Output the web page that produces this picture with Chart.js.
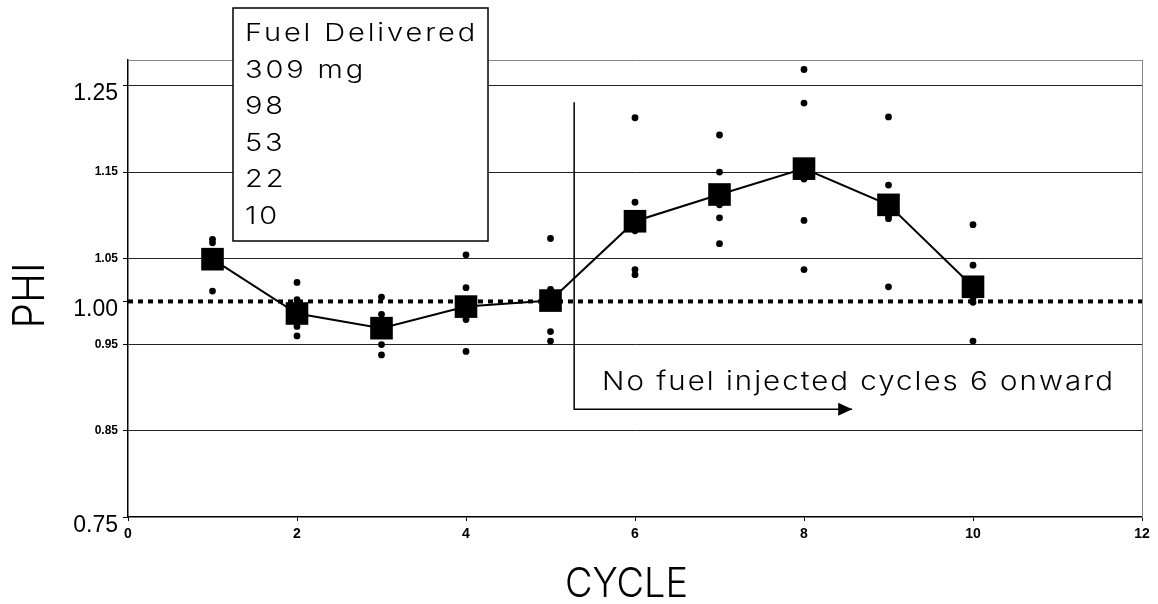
<!DOCTYPE html>
<html lang="en">
<head>
<meta charset="UTF-8" />
<title>PHI by cycle</title>
<script src="https://cdn.jsdelivr.net/npm/chart.js@4.4.1/dist/chart.umd.min.js"></script>
<style>
  html, body { margin:0; padding:0; background:#fff; }
  #wrap { width:1158px; height:604px; position:relative; }
</style>
</head>
<body>
<div id="wrap"><canvas id="phiChart" width="1158" height="604"></canvas></div>
<script>
// cycle numbers and mean PHI (big squares)
const cycles = [1, 2, 3, 4, 5, 6, 7, 8, 9, 10];
const meanPhi = [1.049, 0.986, 0.969, 0.994, 1.001, 1.093, 1.124, 1.154, 1.112, 1.017];

// individual runs per cycle (small dots), one list per cycle
const runPhi = [
  [1.072, 1.068, 1.049, 1.048, 1.012],
  [1.022, 1.002, 0.983, 0.971, 0.960],
  [1.005, 0.985, 0.967, 0.950, 0.938],
  [1.054, 1.016, 0.995, 0.979, 0.942],
  [1.073, 1.014, 0.998, 0.965, 0.954],
  [1.213, 1.115, 1.082, 1.037, 1.031],
  [1.193, 1.150, 1.112, 1.097, 1.067],
  [1.269, 1.230, 1.142, 1.094, 1.037],
  [1.214, 1.135, 1.099, 1.096, 1.017],
  [1.089, 1.042, 1.004, 0.999, 0.954]
];

// stoichiometric reference line
const refX = [0, 12];
const refY = [1.00, 1.00];

// "no fuel" marker: vertical bracket and arrow
const markerX = [5.28, 5.28, 8.57];
const markerY = [1.231, 0.875, 0.875];

// axes
const yTicks = [0.75, 0.85, 0.95, 1.00, 1.05, 1.15, 1.25];
const yBigTicks = [0.75, 1.00, 1.25];
const yGrid = [0.85, 0.95, 1.05, 1.15, 1.25];

const legendLines = ['Fuel Delivered', '309 mg', '98', '53', '22', '10'];
const noteText = 'No fuel injected cycles 6 onward';

const thin = '"Inter", "Lato", "DejaVu Sans", sans-serif';

let dotPts = [];
runPhi.forEach((vals, i) => vals.forEach(v => dotPts.push({x: cycles[i], y: v})));

function isBig(ctx) {
  return !!(ctx && ctx.tick && yBigTicks.includes(ctx.tick.value));
}

// work out a stretch + spacing so that str fills width
function fitFor(ctx, str, width) {
  ctx.letterSpacing = '0px';
  const w = ctx.measureText(str).width;
  const sx = 1 + (width / w - 1) * 0.45;
  const ls = (width - w * sx) / (str.length * sx);
  return {sx, ls};
}

function drawFit(ctx, str, x, yb, fit) {
  ctx.save();
  ctx.translate(x, yb);
  ctx.scale(fit.sx, 1);
  ctx.letterSpacing = fit.ls + 'px';
  ctx.fillText(str, 0, 0);
  ctx.restore();
}

const overlay = {
  id: 'overlay',
  afterDatasetsDraw(chart) {
    const ctx = chart.ctx;
    const xs = chart.scales.x, ys = chart.scales.y;
    ctx.save();
    // arrow head
    const tx = xs.getPixelForValue(markerX[2]);
    const ty = ys.getPixelForValue(markerY[2]);
    ctx.fillStyle = '#000';
    ctx.beginPath();
    ctx.moveTo(tx, ty);
    ctx.lineTo(tx - 14, ty - 6.5);
    ctx.lineTo(tx - 14, ty + 6.5);
    ctx.closePath();
    ctx.fill();

    ctx.textAlign = 'left';
    ctx.textBaseline = 'alphabetic';

    // note
    ctx.font = '300 26px ' + thin;
    drawFit(ctx, noteText, 602, 390, fitFor(ctx, noteText, 513));

    // legend box
    ctx.fillStyle = '#fff';
    ctx.fillRect(233, 8, 255, 233);
    ctx.strokeStyle = '#000';
    ctx.lineWidth = 1.5;
    ctx.strokeRect(233, 8, 255, 233);
    ctx.fillStyle = '#000';
    ctx.font = '300 24px ' + thin;
    const lf = fitFor(ctx, legendLines[0], 233);
    legendLines.forEach((t, i) => drawFit(ctx, t, 245, 41 + i * 36.6, lf));

    // axis titles
    ctx.font = '300 41px ' + thin;
    ctx.letterSpacing = '0px';
    let w = ctx.measureText('CYCLE').width;
    drawFit(ctx, 'CYCLE', 565, 597, {sx: 123 / w, ls: 0});

    ctx.translate(44, 295.5);
    ctx.rotate(-Math.PI / 2);
    ctx.font = '300 43px ' + thin;
    w = ctx.measureText('PHI').width;
    drawFit(ctx, 'PHI', -33, 0, {sx: 66 / w, ls: 0});
    ctx.restore();
  }
};

new Chart(document.getElementById('phiChart'), {
  type: 'scatter',
  data: {
    datasets: [
      {
        type: 'line',
        label: 'Mean',
        data: cycles.map((c, i) => ({x: c, y: meanPhi[i]})),
        borderColor: '#000',
        borderWidth: 2,
        pointStyle: 'rect',
        pointRadius: 16,
        pointBackgroundColor: '#000',
        pointBorderWidth: 0,
        tension: 0
      },
      {
        label: 'Runs',
        data: dotPts,
        pointRadius: 3.4,
        backgroundColor: '#000',
        borderWidth: 0
      },
      {
        type: 'line',
        label: 'PHI = 1',
        data: refX.map((v, i) => ({x: v, y: refY[i]})),
        borderColor: '#000',
        borderWidth: 4,
        borderDash: [5, 5],
        borderCapStyle: 'butt',
        pointRadius: 0
      },
      {
        type: 'line',
        label: 'No fuel',
        data: markerX.map((v, i) => ({x: v, y: markerY[i]})),
        borderColor: '#000',
        borderWidth: 1.5,
        pointRadius: 0,
        tension: 0
      }
    ]
  },
  options: {
    responsive: false,
    animation: false,
    layout: { padding: { top: 60, right: 15, bottom: 0, left: 0 } },
    plugins: { legend: { display: false }, tooltip: { enabled: false } },
    scales: {
      x: {
        type: 'linear', min: 0, max: 12,
        ticks: {
          stepSize: 2, padding: 5, color: '#000',
          font: { family: '"Liberation Sans Narrow", "Liberation Sans", Arial', weight: 'bold', size: 14 }
        },
        grid: { drawOnChartArea: false, drawTicks: true, tickLength: 4, tickColor: '#000' },
        border: { color: '#000', width: 1.5 },
        afterFit(s) { s.height = 87; }
      },
      y: {
        type: 'linear', min: 0.75, max: 1.28,
        afterBuildTicks(s) { s.ticks = yTicks.map(v => ({value: v})); },
        ticks: {
          padding: 5, color: '#000',
          callback: v => yBigTicks.includes(v) ? ['', v.toFixed(2)] : v.toFixed(2),
          font: ctx => isBig(ctx)
            ? { family: '"Liberation Sans", Arial', size: 23, lineHeight: 0.72 }
            : { family: '"Liberation Sans", Arial', size: 12, weight: 'bold' }
        },
        grid: {
          color: ctx => (ctx.tick && yGrid.includes(ctx.tick.value)) ? '#222' : 'rgba(0,0,0,0)',
          lineWidth: 1,
          tickLength: 5,
          tickColor: '#000'
        },
        border: { color: '#000', width: 1.5 },
        afterFit(s) { s.width = 128; }
      },
      x2: {
        type: 'linear', position: 'top', min: 0, max: 12,
        ticks: { display: false },
        grid: { drawOnChartArea: false, drawTicks: false },
        border: { color: '#888', width: 1, dash: [2, 2] },
        afterFit(s) { s.height = 0; }
      },
      y2: {
        type: 'linear', position: 'right', min: 0.75, max: 1.28,
        ticks: { display: false },
        grid: { drawOnChartArea: false, drawTicks: false },
        border: { color: '#888', width: 1, dash: [2, 2] },
        afterFit(s) { s.width = 0; }
      }
    }
  },
  plugins: [overlay]
});
</script>
</body>
</html>
